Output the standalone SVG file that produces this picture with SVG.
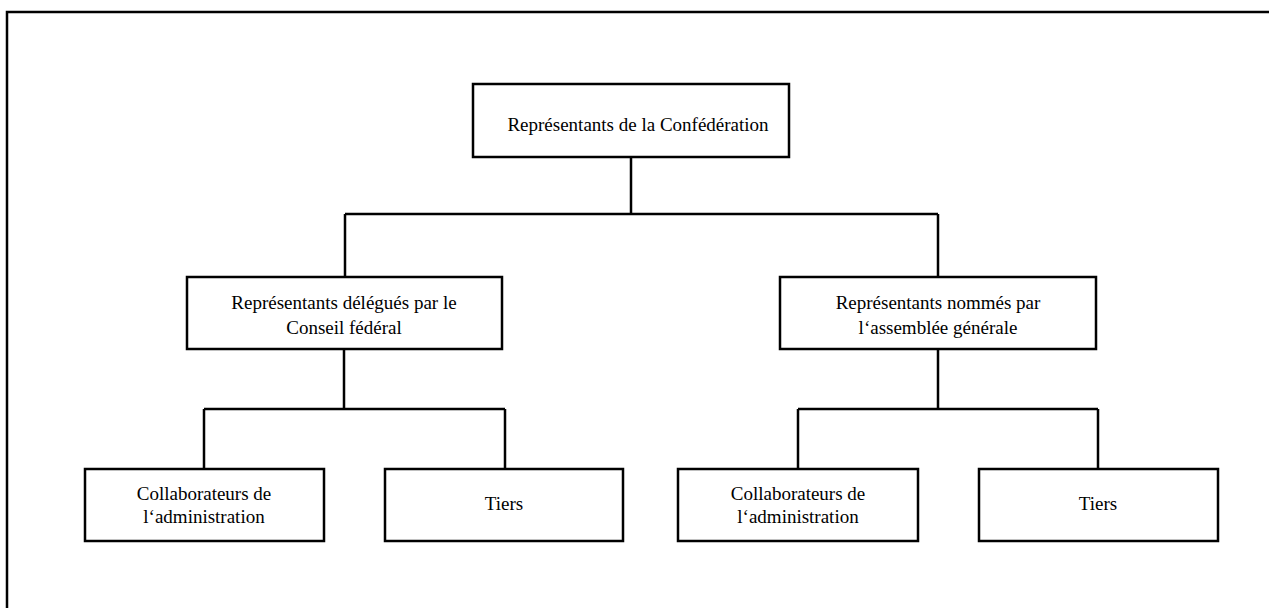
<svg xmlns="http://www.w3.org/2000/svg" width="1269" height="608" viewBox="0 0 1269 608">
<style>
.box{fill:#fff;stroke:#000;stroke-width:2.5}
.ln{stroke:#000;stroke-width:2.5;fill:none}
text{font-family:"Liberation Serif","Times New Roman",serif;font-size:19px;fill:#000;text-anchor:middle}
</style>
<rect width="1269" height="608" fill="#fff"/>
<g id="frame"><path class="ln" d="M7,608 V12 H1270"/></g>
<g id="connectors">
<path class="ln" d="M631,157 V214 M345,214 H938 M345,214 V277 M938,214 V277"/>
<path class="ln" d="M344,349 V409 M204,409 H505 M204,409 V469 M505,409 V469"/>
<path class="ln" d="M938,349 V409 M798,409 H1098 M798,409 V469 M1098,409 V469"/>
</g>
<g id="n-top"><rect class="box" x="473" y="84" width="316" height="73"/><text x="638" y="131">Représentants de la Confédération</text></g>
<g id="n-cf"><rect class="box" x="187" y="277" width="315" height="72"/><text x="344" y="309">Représentants délégués par le</text><text x="344" y="334">Conseil fédéral</text></g>
<g id="n-ag"><rect class="box" x="780" y="277" width="316" height="72"/><text x="938" y="309">Représentants nommés par</text><text x="938" y="334">l‘assemblée générale</text></g>
<g id="n-c1"><rect class="box" x="85" y="469" width="239" height="72"/><text x="204" y="500">Collaborateurs de</text><text x="204" y="523">l‘administration</text></g>
<g id="n-t1"><rect class="box" x="385" y="469" width="238" height="72"/><text x="504" y="510">Tiers</text></g>
<g id="n-c2"><rect class="box" x="678" y="469" width="240" height="72"/><text x="798" y="500">Collaborateurs de</text><text x="798" y="523">l‘administration</text></g>
<g id="n-t2"><rect class="box" x="979" y="469" width="239" height="72"/><text x="1098" y="510">Tiers</text></g>
</svg>
